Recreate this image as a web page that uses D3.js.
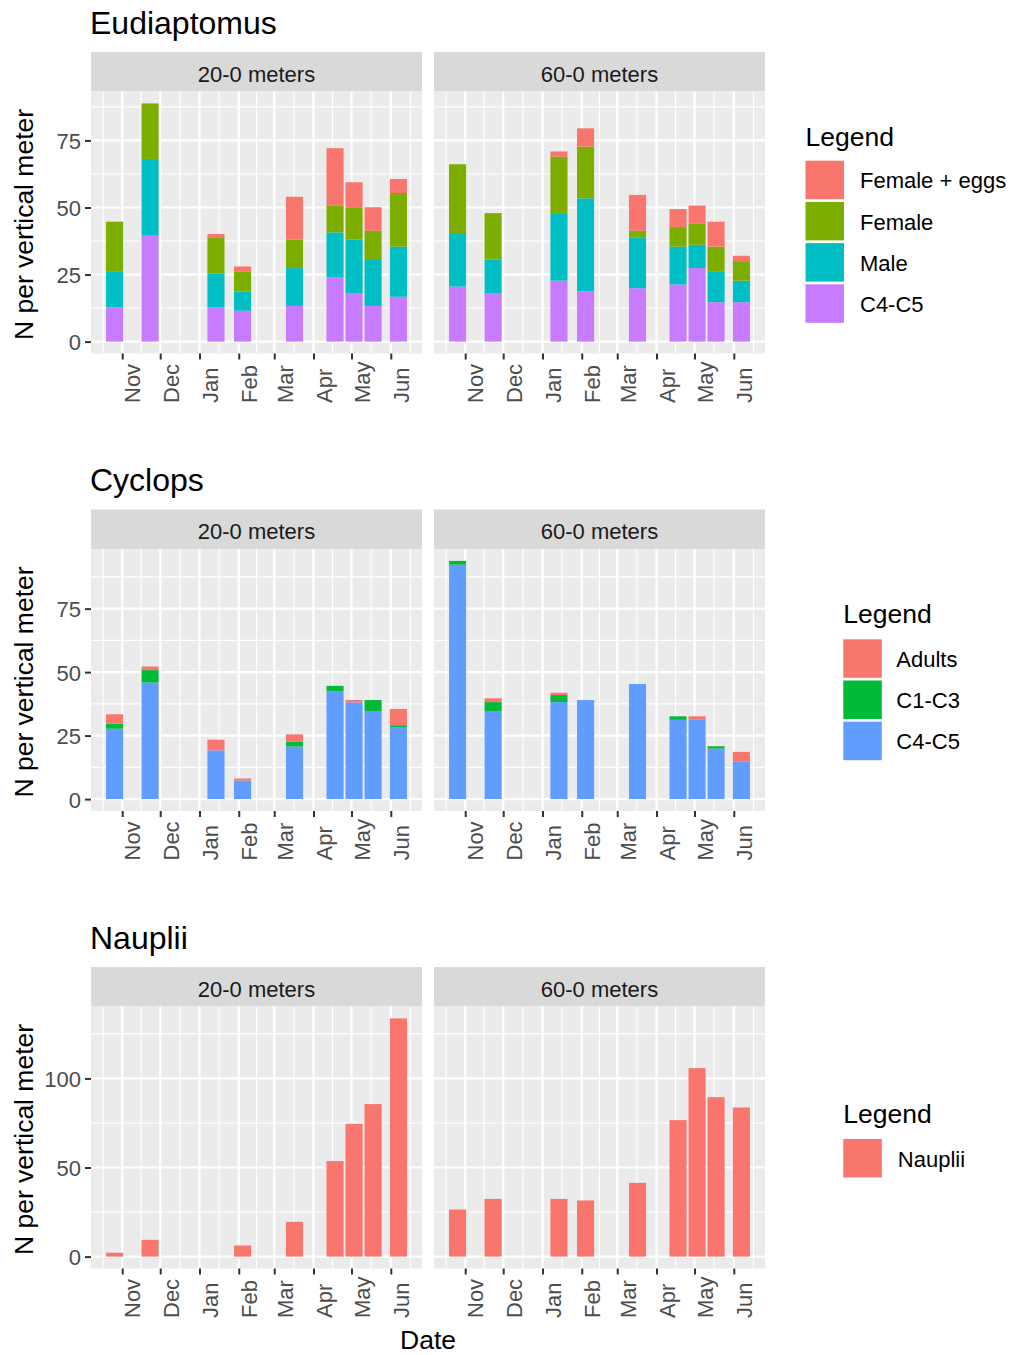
<!DOCTYPE html>
<html>
<head>
<meta charset="utf-8">
<script src="https://cdn.jsdelivr.net/npm/d3@7"></script>
<style>
  body { margin: 0; background: #ffffff; }
  svg { display: block; font-family: "Liberation Sans", Arial, sans-serif; }
</style>
</head>
<body>
<svg id="chart" width="1011" height="1355"></svg>
<script>
// ---- sampling dates (same for both depth ranges) ----
const sampleDates = ["2018-10-26", "2018-11-23", "2019-01-14", "2019-02-04", "2019-03-17",
                     "2019-04-18", "2019-05-03", "2019-05-18", "2019-06-07"];
const depthLabels = ["20-0 meters", "60-0 meters"];

// ---- Eudiaptomus (N per vertical meter), stages listed top of stack first ----
const eudiStages = ["Female + eggs", "Female", "Male", "C4-C5"];
const eudiColors = ["#F8766D", "#7CAE00", "#00BFC4", "#C77CFF"];
const eudiShallowEggs   = [0, 0, 1.2, 2.0, 16.0, 21.3, 9.3, 8.8, 5.2];
const eudiShallowFemale = [18.7, 20.7, 13.5, 7.3, 10.6, 10.1, 12.1, 10.5, 20.0];
const eudiShallowMale   = [13.3, 28.6, 12.7, 7.2, 14.1, 16.7, 19.9, 17.5, 18.7];
const eudiShallowC45    = [12.7, 39.5, 12.7, 11.5, 13.3, 24.0, 18.1, 13.3, 16.7];
const eudiDeepEggs      = [0, 0, 2.0, 6.8, 13.4, 6.7, 6.6, 9.3, 2.0];
const eudiDeepFemale    = [26.0, 17.3, 21.0, 19.3, 2.4, 7.3, 8.0, 9.4, 7.3];
const eudiDeepMale      = [19.6, 12.5, 25.2, 34.7, 19.0, 14.1, 8.7, 11.3, 8.0];
const eudiDeepC45       = [20.5, 18.1, 22.7, 18.7, 19.9, 21.3, 27.4, 14.7, 14.7];
const eudiTicks = [0, 25, 50, 75];

// ---- Cyclops ----
const cycloStages = ["Adults", "C1-C3", "C4-C5"];
const cycloColors = ["#F8766D", "#00BA38", "#619CFF"];
const cycloShallowAdults = [3.7, 1.4, 4.2, 0.8, 2.9, 0, 0.9, 0, 6.4];
const cycloShallowC13    = [2.0, 4.9, 0, 0, 1.9, 2.2, 0, 4.3, 0.7];
const cycloShallowC45    = [27.7, 45.9, 19.2, 7.3, 20.7, 42.4, 38.1, 34.7, 28.4];
const cycloDeepAdults    = [0, 1.5, 0.9, 0, 0, 0, 1.4, 0, 3.7];
const cycloDeepC13       = [1.5, 3.5, 2.8, 0, 0, 1.4, 0, 0.9, 0];
const cycloDeepC45       = [92.3, 34.7, 38.2, 39.0, 45.3, 31.2, 31.2, 19.9, 14.9];
const cycloTicks = [0, 25, 50, 75];

// ---- Nauplii ----
const naupStages = ["Nauplii"];
const naupColors = ["#F8766D"];
const naupShallow = [2.2, 9.4, 0, 6.2, 19.5, 53.6, 74.5, 85.6, 133.7];
const naupDeep    = [26.4, 32.4, 32.4, 31.5, 41.4, 76.6, 105.8, 89.5, 83.7];
const naupTicks = [0, 50, 100];

// ---- layout ----
const PANEL_H = 262, STRIP_H = 39.5;
const panelsX = [[91, 422], [434, 765]];

const rows = [
  { title: "Eudiaptomus", titleY: 33.5, top: 91.5, stages: eudiStages, colors: eudiColors,
    values: [[eudiShallowEggs, eudiShallowFemale, eudiShallowMale, eudiShallowC45],
             [eudiDeepEggs, eudiDeepFemale, eudiDeepMale, eudiDeepC45]],
    ticks: eudiTicks, legend: { x: 805.5, titleY: 146, keyY: 160.7, labelDx: 54.5 } },
  { title: "Cyclops", titleY: 491, top: 549, stages: cycloStages, colors: cycloColors,
    values: [[cycloShallowAdults, cycloShallowC13, cycloShallowC45],
             [cycloDeepAdults, cycloDeepC13, cycloDeepC45]],
    ticks: cycloTicks, legend: { x: 843.3, titleY: 623, keyY: 639.3, labelDx: 53 } },
  { title: "Nauplii", titleY: 948.5, top: 1006.5, stages: naupStages, colors: naupColors,
    values: [[naupShallow], [naupDeep]],
    ticks: naupTicks, legend: { x: 843.3, titleY: 1122.5, keyY: 1139, labelDx: 54.5 } }
];

const svg = d3.select("#chart");
const parse = d3.utcParse("%Y-%m-%d");
const dates = sampleDates.map(parse);

// bar width = 0.9 x smallest spacing between samples
const barWidth = 0.9 * d3.min(d3.pairs(dates, (a, b) => b - a));
const xLo = +d3.min(dates) - barWidth / 2, xHi = +d3.max(dates) + barWidth / 2;
const xPad = (xHi - xLo) * 0.05;
const xDomain = [new Date(xLo - xPad), new Date(xHi + xPad)];
const months = d3.utcMonth.range(xDomain[0], xDomain[1]);
const monthFmt = d3.utcFormat("%b");

// minor breaks: midpoints between majors, extended half a step at each end
function minorBreaks(major, lo, hi) {
  const out = d3.pairs(major, (a, b) => (+a + +b) / 2);
  const n = major.length;
  out.unshift(+major[0] - (major[1] - major[0]) / 2);
  out.push(+major[n - 1] + (major[n - 1] - major[n - 2]) / 2);
  return out.filter(v => v >= lo && v <= hi);
}

const SMALL = 22, AXIS_TITLE = 26.5, TITLE = 32;

rows.forEach(row => {
  const bottom = row.top + PANEL_H;
  const yMax = d3.max(row.values, depth => d3.max(dates, (_, i) => d3.sum(depth, s => s[i])));
  const y = d3.scaleLinear().domain([-0.05 * yMax, 1.05 * yMax]).range([bottom, row.top]);
  const yMinor = minorBreaks(row.ticks, y.domain()[0], y.domain()[1]);

  // plot title
  svg.append("text").attr("x", 90).attr("y", row.titleY)
    .attr("font-size", TITLE).attr("fill", "#000").text(row.title);

  // y axis title
  svg.append("text")
    .attr("transform", `translate(33,${(row.top + bottom) / 2 + 2}) rotate(-90)`)
    .attr("text-anchor", "middle").attr("font-size", AXIS_TITLE).attr("fill", "#000")
    .text("N per vertical meter");

  panelsX.forEach((pr, p) => {
    const x = d3.scaleUtc().domain(xDomain).range(pr);
    const g = svg.append("g");

    // facet strip
    g.append("rect").attr("x", pr[0]).attr("y", row.top - STRIP_H)
      .attr("width", pr[1] - pr[0]).attr("height", STRIP_H).attr("fill", "#D9D9D9");
    g.append("text").attr("x", (pr[0] + pr[1]) / 2).attr("y", row.top - STRIP_H + 29.5)
      .attr("text-anchor", "middle").attr("font-size", SMALL).attr("fill", "#1A1A1A")
      .text(depthLabels[p]);

    // panel background
    g.append("rect").attr("x", pr[0]).attr("y", row.top)
      .attr("width", pr[1] - pr[0]).attr("height", PANEL_H).attr("fill", "#EBEBEB");

    // grid
    const grid = g.append("g").attr("stroke", "#FFFFFF");
    const xMinor = minorBreaks(months, +xDomain[0], +xDomain[1]);
    grid.selectAll(".ymin").data(yMinor).join("line")
      .attr("x1", pr[0]).attr("x2", pr[1]).attr("y1", d => y(d)).attr("y2", d => y(d))
      .attr("stroke-width", 1.1);
    grid.selectAll(".xmin").data(xMinor).join("line")
      .attr("x1", d => x(d)).attr("x2", d => x(d)).attr("y1", row.top).attr("y2", bottom)
      .attr("stroke-width", 1.1);
    grid.append("g").selectAll("line").data(row.ticks).join("line")
      .attr("x1", pr[0]).attr("x2", pr[1]).attr("y1", d => y(d)).attr("y2", d => y(d))
      .attr("stroke-width", 2.2);
    grid.append("g").selectAll("line").data(months).join("line")
      .attr("x1", d => x(d)).attr("x2", d => x(d)).attr("y1", row.top).attr("y2", bottom)
      .attr("stroke-width", 2.2);

    // stacked bars
    const table = dates.map((d, i) => {
      const o = { date: d };
      row.stages.forEach((s, k) => { o[s] = row.values[p][k][i]; });
      return o;
    });
    const layers = d3.stack().keys(row.stages.slice().reverse())(table);
    layers.forEach(layer => {
      g.append("g").attr("fill", row.colors[row.stages.indexOf(layer.key)])
        .selectAll("rect").data(layer).join("rect")
        .attr("x", d => x(new Date(+d.data.date - barWidth / 2)))
        .attr("width", d => x(new Date(+d.data.date + barWidth / 2)) - x(new Date(+d.data.date - barWidth / 2)))
        .attr("y", d => y(d[1]))
        .attr("height", d => y(d[0]) - y(d[1]));
    });

    // x axis
    const xa = g.append("g").attr("transform", `translate(0,${bottom})`)
      .call(d3.axisBottom(x).tickValues(months).tickFormat(monthFmt).tickSize(6));
    xa.attr("font-family", null).attr("font-size", null);
    xa.select(".domain").remove();
    xa.selectAll(".tick line").attr("stroke", "#333333").attr("stroke-width", 2);
    xa.selectAll(".tick text")
      .attr("x", null).attr("y", null).attr("dy", null)
      .attr("transform", "translate(17.8,49.5) rotate(-90)")
      .attr("text-anchor", "start").attr("font-size", SMALL).attr("fill", "#4D4D4D");

    // y axis on first panel only
    if (p === 0) {
      const ya = g.append("g").attr("transform", `translate(${pr[0]},0)`)
        .call(d3.axisLeft(y).tickValues(row.ticks).tickSize(6).tickPadding(4));
      ya.attr("font-family", null).attr("font-size", null);
      ya.select(".domain").remove();
      ya.selectAll(".tick line").attr("stroke", "#333333").attr("stroke-width", 2);
      ya.selectAll(".tick text").attr("font-size", SMALL).attr("fill", "#4D4D4D").attr("dy", "0.36em");
    }
  });

  // legend
  const lg = svg.append("g");
  lg.append("text").attr("x", row.legend.x).attr("y", row.legend.titleY)
    .attr("font-size", AXIS_TITLE).attr("fill", "#000").text("Legend");
  const keyStep = 41.2, keySize = 38.5;
  row.stages.forEach((s, k) => {
    const ky = row.legend.keyY + k * keyStep;
    lg.append("rect").attr("x", row.legend.x).attr("y", ky)
      .attr("width", keySize).attr("height", keySize).attr("fill", row.colors[k]);
    lg.append("text").attr("x", row.legend.x + row.legend.labelDx).attr("y", ky + keySize / 2 + 8.5)
      .attr("font-size", SMALL).attr("fill", "#000").text(s);
  });
});

// shared x axis title
svg.append("text").attr("x", (panelsX[0][0] + panelsX[1][1]) / 2).attr("y", 1349)
  .attr("text-anchor", "middle").attr("font-size", AXIS_TITLE).attr("fill", "#000").text("Date");
</script>
</body>
</html>
